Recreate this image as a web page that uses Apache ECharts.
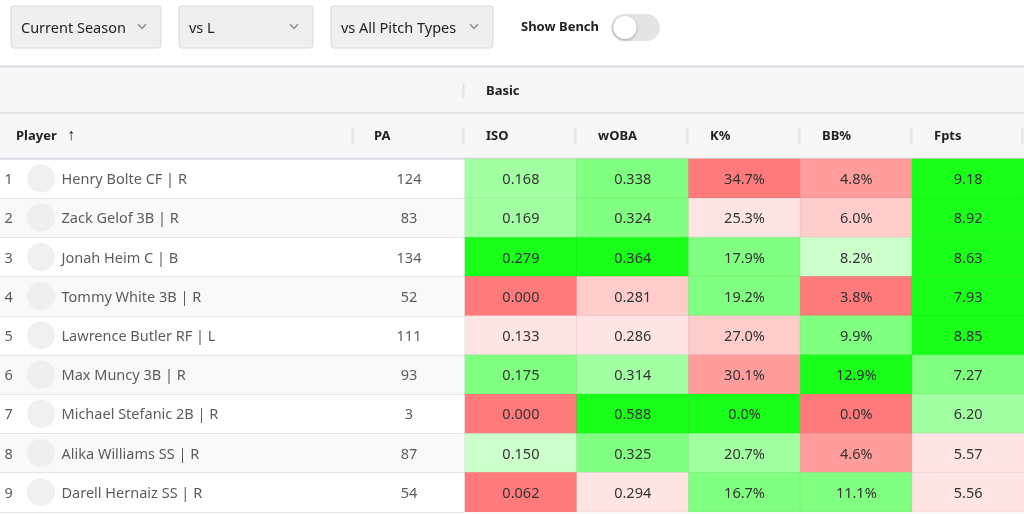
<!DOCTYPE html>
<html>
<head>
<meta charset="utf-8">
<script src="https://cdn.jsdelivr.net/npm/echarts@6/dist/echarts.min.js"></script>
<style>
  html, body { margin: 0; padding: 0; background: #fff; }
  #main { width: 1024px; height: 514px; }
</style>
</head>
<body>
<div id="main"></div>
<script>
var FONT = '"Noto Sans", "Open Sans", sans-serif';

var players = ['Henry Bolte CF | R', 'Zack Gelof 3B | R', 'Jonah Heim C | B', 'Tommy White 3B | R',
    'Lawrence Butler RF | L', 'Max Muncy 3B | R', 'Michael Stefanic 2B | R', 'Alika Williams SS | R',
    'Darell Hernaiz SS | R'];
var pa = [124, 83, 134, 52, 111, 93, 3, 87, 54];
var iso = [0.168, 0.169, 0.279, 0.000, 0.133, 0.175, 0.000, 0.150, 0.062];
var woba = [0.338, 0.324, 0.364, 0.281, 0.286, 0.314, 0.588, 0.325, 0.294];
var kPct = [34.7, 25.3, 17.9, 19.2, 27.0, 30.1, 0.0, 20.7, 16.7];
var bbPct = [4.8, 6.0, 8.2, 3.8, 9.9, 12.9, 0.0, 4.6, 11.1];
var fpts = [9.18, 8.92, 8.63, 7.93, 8.85, 7.27, 6.20, 5.57, 5.56];

// colour grade of each cell as shown (-4 deep red ... +4 deep green)
var isoGrade = [2, 2, 4, -4, -1, 3, -4, 1, -4];
var wobaGrade = [3, 3, 4, -2, -1, 2, 4, 3, -1];
var kGrade = [-4, -1, 3, 3, -2, -3, 4, 2, 3];
var bbGrade = [-3, -2, 1, -4, 3, 4, -4, -3, 3];
var fptsGrade = [4, 4, 4, 4, 4, 3, 2, -1, -1];

var statCols = ['ISO', 'wOBA', 'K%', 'BB%', 'Fpts'];
var filters = ['Current Season', 'vs L', 'vs All Pitch Types'];

var statVals = [
    iso.map(function (v) { return v.toFixed(3); }),
    woba.map(function (v) { return v.toFixed(3); }),
    kPct.map(function (v) { return v.toFixed(1) + '%'; }),
    bbPct.map(function (v) { return v.toFixed(1) + '%'; }),
    fpts.map(function (v) { return v.toFixed(2); })
];
var statGrades = [isoGrade, wobaGrade, kGrade, bbGrade, fptsGrade];

var heatData = [];
statCols.forEach(function (c, ci) {
    players.forEach(function (p, ri) {
        heatData.push([ci, ri, statGrades[ci][ri]]);
    });
});

var rowIdx = players.map(function (p, i) { return i; });

// layout
var TOP = 159, ROW_H = 39.2, HEAT_LEFT = 465, CELL_W = 112;

var graphic = [];
// filter dropdowns
var boxes = [[11, 150], [179, 134], [331, 162]];
filters.forEach(function (f, i) {
    var x = boxes[i][0], w = boxes[i][1];
    graphic.push({
        type: 'rect', shape: { x: x, y: 6, width: w, height: 42, r: 3 },
        style: { fill: '#efefef', stroke: '#dadada', lineWidth: 1 }
    });
    graphic.push({
        type: 'text', x: x + 10, y: 28.5,
        style: { text: f, font: '14.5px ' + FONT, fill: '#222', textVerticalAlign: 'middle' }
    });
    graphic.push({
        type: 'polyline', shape: { points: [[x + w - 23, 24], [x + w - 19, 28.5], [x + w - 15, 24]] },
        style: { stroke: '#888', lineWidth: 1.2, fill: null }
    });
});
graphic.push({
    type: 'text', x: 521, y: 27.5,
    style: { text: 'Show Bench', font: 'bold 13px ' + FONT, fill: '#222', textVerticalAlign: 'middle' }
});
graphic.push({
    type: 'rect', shape: { x: 611, y: 14, width: 49, height: 27, r: 13.5 },
    style: { fill: '#e4e4e4' }
});
graphic.push({
    type: 'circle', shape: { cx: 625, cy: 27.5, r: 11.5 },
    style: { fill: '#fff', shadowBlur: 3, shadowColor: 'rgba(0,0,0,0.3)', shadowOffsetY: 1 }
});

// header band
graphic.push({
    type: 'rect', shape: { x: 0, y: 67, width: 1024, height: 91 },
    style: { fill: '#f7f7f8' }
});
[[66.5, 2], [113, 1.5], [158.5, 1.5]].forEach(function (l) {
    graphic.push({
        type: 'line', shape: { x1: 0, y1: l[0], x2: 1024, y2: l[0] },
        style: { stroke: '#dcdce4', lineWidth: l[1] }
    });
});
graphic.push({
    type: 'line', shape: { x1: 463.5, y1: 84, x2: 463.5, y2: 98 },
    style: { stroke: '#dfe3ea', lineWidth: 2 }
});
graphic.push({
    type: 'text', x: 486, y: 91,
    style: { text: 'Basic', font: 'bold 13px ' + FONT, fill: '#222', textVerticalAlign: 'middle' }
});
graphic.push({
    type: 'text', x: 16, y: 136,
    style: { text: 'Player', font: 'bold 13px ' + FONT, fill: '#222', textVerticalAlign: 'middle' }
});
graphic.push({
    type: 'text', x: 67, y: 135,
    style: { text: '\u2191', font: '16px ' + FONT, fill: '#222', textVerticalAlign: 'middle' }
});
graphic.push({
    type: 'text', x: 374, y: 136,
    style: { text: 'PA', font: 'bold 13px ' + FONT, fill: '#222', textVerticalAlign: 'middle' }
});
graphic.push({
    type: 'line', shape: { x1: 352.5, y1: 128, x2: 352.5, y2: 144 },
    style: { stroke: '#dfe3ea', lineWidth: 2 }
});
statCols.forEach(function (c, i) {
    var x = HEAT_LEFT + i * CELL_W;
    graphic.push({
        type: 'line', shape: { x1: x - 1.5, y1: 128, x2: x - 1.5, y2: 144 },
        style: { stroke: '#dfe3ea', lineWidth: 2 }
    });
    graphic.push({
        type: 'text', x: x + 21, y: 136,
        style: { text: c, font: 'bold 13px ' + FONT, fill: '#222', textVerticalAlign: 'middle' }
    });
});
graphic.push({
    type: 'line', shape: { x1: 1022.5, y1: 128, x2: 1022.5, y2: 144 },
    style: { stroke: '#dfe3ea', lineWidth: 2 }
});

var chart = echarts.init(document.getElementById('main'));
var textStyle = { fontFamily: FONT, fontSize: 14.5, color: '#333' };

var option = {
    animation: false,
    graphic: graphic,
    grid: [
        { left: 0, width: HEAT_LEFT, top: TOP, height: ROW_H * players.length },
        { left: HEAT_LEFT, width: CELL_W * statCols.length, top: TOP, height: ROW_H * players.length }
    ],
    xAxis: [
        { type: 'value', gridIndex: 0, min: 0, max: HEAT_LEFT, show: false },
        { type: 'category', gridIndex: 1, data: statCols, show: false }
    ],
    yAxis: [
        {
            type: 'category', gridIndex: 0, data: players, inverse: true,
            axisLine: { show: false }, axisTick: { show: false }, axisLabel: { show: false },
            splitLine: { show: true, lineStyle: { color: '#e5e5ee', width: 1 } },
            splitArea: { show: true, areaStyle: { color: ['#ffffff', '#f9f9fa'] } }
        },
        {
            type: 'category', gridIndex: 1, data: players, inverse: true,
            axisLine: { show: false }, axisTick: { show: false }, axisLabel: { show: false },
            splitLine: { show: false }
        }
    ],
    visualMap: {
        type: 'piecewise', show: false, dimension: 2, seriesIndex: 4,
        pieces: [
            { value: -4, color: '#ff7b7b' },
            { value: -3, color: '#ff9d9d' },
            { value: -2, color: '#ffcccc' },
            { value: -1, color: '#ffe4e4' },
            { value: 1, color: '#ccffcc' },
            { value: 2, color: '#a2ffa2' },
            { value: 3, color: '#80ff80' },
            { value: 4, color: '#1aff1a' }
        ]
    },
    series: [
        {
            type: 'scatter', xAxisIndex: 0, yAxisIndex: 0, symbolSize: 1, silent: true,
            itemStyle: { color: 'rgba(0,0,0,0)' },
            data: rowIdx.map(function (i) { return [4, i]; }),
            label: {
                show: true, position: 'right', distance: 0, offset: [0, 1.5], textStyle: textStyle,
                formatter: function (p) { return String(p.dataIndex + 1); }
            }
        },
        {
            type: 'scatter', xAxisIndex: 0, yAxisIndex: 0, symbolSize: 28, silent: true,
            itemStyle: { color: '#ececec' },
            data: rowIdx.map(function (i) { return [41, i]; })
        },
        {
            type: 'scatter', xAxisIndex: 0, yAxisIndex: 0, symbolSize: 1, silent: true,
            itemStyle: { color: 'rgba(0,0,0,0)' },
            data: rowIdx.map(function (i) { return [60, i]; }),
            label: {
                show: true, position: 'right', distance: 1, offset: [0, 1.5], textStyle: textStyle,
                formatter: function (p) { return players[p.dataIndex]; }
            }
        },
        {
            type: 'scatter', xAxisIndex: 0, yAxisIndex: 0, symbolSize: 1, silent: true,
            itemStyle: { color: 'rgba(0,0,0,0)' },
            data: rowIdx.map(function (i) { return [409, i]; }),
            label: {
                show: true, position: 'inside', offset: [0, 1.5], textStyle: textStyle,
                formatter: function (p) { return String(pa[p.dataIndex]); }
            }
        },
        {
            type: 'heatmap', xAxisIndex: 1, yAxisIndex: 1, data: heatData,
            itemStyle: { borderColor: 'rgba(0,0,0,0.05)', borderWidth: 1 },
            label: {
                show: true, fontFamily: FONT, fontSize: 14.5, color: '#333', offset: [0, 1.5],
                formatter: function (p) { return statVals[p.value[0]][p.value[1]]; }
            },
            emphasis: { disabled: true }
        }
    ]
};
chart.setOption(option);
</script>
</body>
</html>
